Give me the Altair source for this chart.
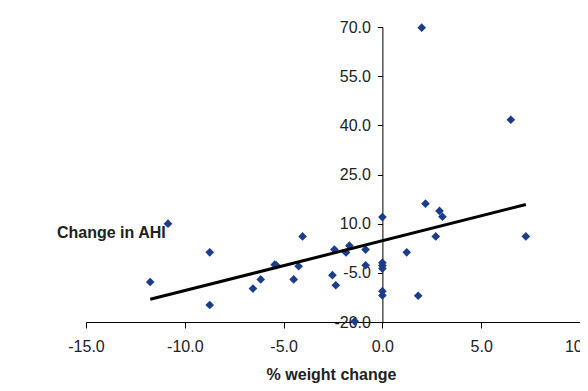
import altair as alt
import pandas as pd

weight_change = [-11.75, -10.85, -8.74, -8.74, -6.55, -6.16, -5.45, -5.37, -4.49, -4.24,
                 -4.04, -2.53, -2.36, -2.43, -1.84, -1.67, -0.85, -0.85, -1.40,
                 0.0, 0.0, 0.0, 0.0, 0.0, 0.0,
                 1.23, 1.81, 2.18, 2.70, 2.89, 3.04, 1.99, 6.50, 7.26]
ahi_change = [-7.8, 10.0, 1.25, -14.8, -9.8, -7.0, -2.5, -2.7, -7.0, -3.0,
              6.1, -5.7, -8.8, 2.1, 1.2, 3.3, 2.1, -2.7, -19.8,
              12.0, -1.9, -2.8, -3.7, -10.6, -11.9,
              1.25, -12.0, 16.1, 6.1, 13.9, 12.1, 69.8, 41.7, 6.1]
x_ticks = [-15, -10, -5, 0, 5, 10]
y_ticks = [-20, -5, 10, 25, 40, 55, 70]

df = pd.DataFrame({"w": weight_change, "ahi": ahi_change})

W, H = 494, 295
FONT = "Liberation Sans"
label_expr = "replace(format(datum.value, '.1f'), '\u2212', '-')"

xscale = alt.Scale(domain=[-15, 10], nice=False, zero=False)
yscale = alt.Scale(domain=[-20, 70], nice=False, zero=False)

x_axis = alt.Axis(
    values=x_ticks, labelExpr=label_expr, title="% weight change",
    orient="bottom", grid=False, domainColor="#000", tickColor="#000",
    tickSize=6, labelPadding=10, labelFont=FONT, labelFontSize=16,
    labelColor="#222", titleFont=FONT, titleFontSize=16, titleFontWeight="bold",
    titleColor="#222", titleBaseline="alphabetic", titleY=57.5, titleX=W * 0.5 - 2,
    labelFlush=False, labelOverlap=False)
y_axis = alt.Axis(
    values=y_ticks, labelExpr=label_expr, title="Change in AHI",
    orient="left", offset=-W * 0.6, grid=False, domainColor="#000",
    tickColor="#000", tickSize=5, labelPadding=7, labelFont=FONT,
    labelFontSize=16, labelColor="#222", titleFont=FONT, titleFontSize=16,
    titleFontWeight="bold", titleColor="#222", titleAngle=0,
    titleAlign="left", titleBaseline="alphabetic",
    titleX=-(W * 0.6) - 29.5, titleY=210.5, labelFlush=False, labelOverlap=False)

points = alt.Chart(df).mark_point(
    shape="diamond", filled=True, size=75, color="#1c3c8c", opacity=1
).encode(
    x=alt.X("w:Q", scale=xscale, axis=x_axis),
    y=alt.Y("ahi:Q", scale=yscale, axis=y_axis),
)

trend = alt.Chart(df).transform_regression("w", "ahi").mark_line(
    color="#000", strokeWidth=3
).encode(
    x=alt.X("w:Q", scale=xscale, axis=x_axis),
    y=alt.Y("ahi:Q", scale=yscale, axis=y_axis),
)

chart = alt.layer(points, trend).properties(
    width=W, height=H,
    autosize=alt.AutoSizeParams(type="none"),
    padding={"left": 78, "top": 19, "right": 0, "bottom": 61},
).configure_view(stroke=None)

chart.save("out.html", embed_options={"renderer": "svg", "actions": False})
